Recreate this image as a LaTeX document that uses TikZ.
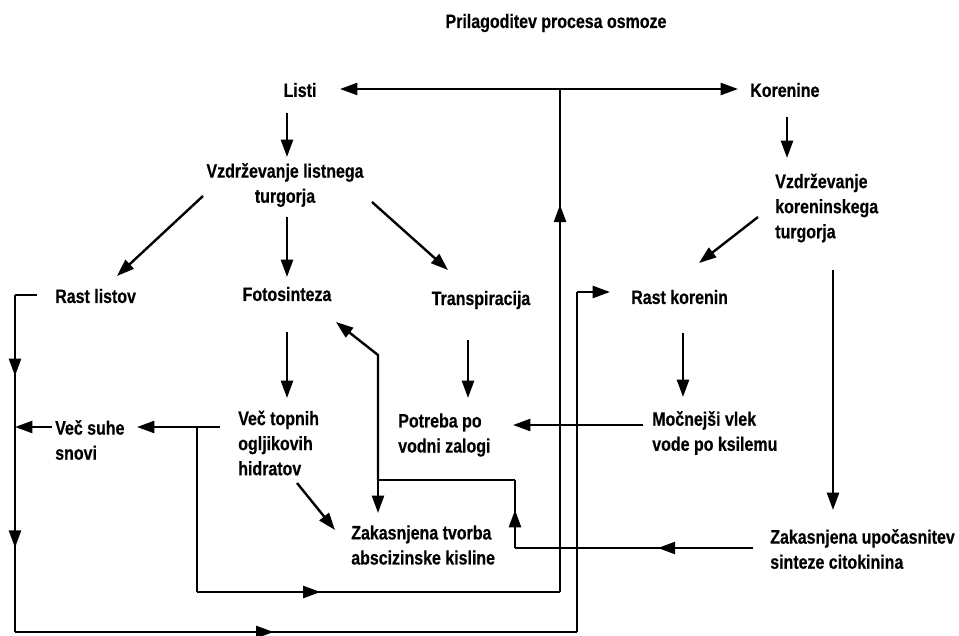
\documentclass[tikz,border=0pt]{standalone}
\usepackage{fontspec}
\setmainfont{Liberation Sans}[FakeStretch=0.82, BoldFeatures={FakeBold=0.4}]
\usepackage{tikz}
\usetikzlibrary{arrows.meta,positioning,calc,decorations.markings}
\tikzset{
  osmtip/.tip={Triangle[length=13pt,width=9pt]},
  osmtext/.style={font=\fontsize{14.6}{18.8}\selectfont\bfseries, inner sep=0pt},
  osmline/.style={line width=1.8pt},
  osmarrow/.style={line width=1.8pt, -osmtip},
  midarrow/.style={postaction={decorate}, decoration={markings, mark=at position #1 with {\arrow{osmtip}}}},
  midarrows/.style 2 args={postaction={decorate}, decoration={markings,
      mark=at position #1 with {\arrow{osmtip}}, mark=at position #2 with {\arrow{osmtip}}}},
}
\begin{document}
\begin{tikzpicture}[x=0.75pt, y=-0.75pt]
  \useasboundingbox (0,0) rectangle (959,635);

  \node[osmtext] (title) at (556,23) {Prilagoditev procesa osmoze};
  \node[osmtext] (listi) at (300,90) {Listi};
  \node[osmtext, anchor=west] (korenine) at (750,90) {Korenine};
  \node[osmtext, align=center] (vzdl) at (285,185) {Vzdrževanje listnega\\turgorja};
  \node[osmtext, anchor=west] (rastl) at (55,296) {Rast listov};
  \node[osmtext] (foto) at (287,294) {Fotosinteza};
  \node[osmtext] (transp) at (481,300) {Transpiracija};
  \node[osmtext, anchor=west, align=left] (vecsuhe) at (55,440) {Več suhe\\snovi};
  \node[osmtext, anchor=west, align=left] (topni) at (238,443) {Več topnih\\ogljikovih\\hidratov};
  \node[osmtext, anchor=west, align=left] (abs) at (351,545) {Zakasnjena tvorba\\abscizinske kisline};
  \node[osmtext, anchor=west, align=left] (potreba) at (398,435) {Potreba po\\vodni zalogi};
  \node[osmtext, anchor=west] (rastk) at (631,297) {Rast korenin};
  \node[osmtext, anchor=west, align=left] (vlek) at (652,433) {Močnejši vlek\\vode po ksilemu};
  \node[osmtext, anchor=west, align=left] (vzdk) at (775,208) {Vzdrževanje\\koreninskega\\turgorja};
  \node[osmtext, anchor=west, align=left] (citok) at (770,549) {Zakasnjena upočasnitev\\sinteze citokinina};

  \draw[osmline, osmtip-osmtip] ($(listi)+(40,-1)$) -- ($(korenine.west)+(-12,-1)$);
  \coordinate (jtop) at ($(listi)+(260,-1)$);

  \draw[osmarrow] ($(listi)+(-13,23)$) -- ($(vzdl)+(2,-28)$);
  \draw[osmarrow] ($(vzdl)+(2,32)$) -- ($(foto)+(0,-17)$);
  \draw[osmarrow] ($(vzdl)+(-82,11)$) -- ($(rastl.west)+(62,-20)$);
  \draw[osmarrow] ($(vzdl)+(87,17)$) -- ($(transp)+(-33,-30)$);
  \draw[osmarrow] ($(foto)+(0,38)$) -- ($(topni.west)+(49,-45)$);
  \draw[osmarrow] ($(transp)+(-13,40)$) -- ($(potreba.west)+(70,-37)$);
  \draw[osmarrow] ($(topni.west)+(59,40)$) -- ($(abs.west)+(-16,-15)$);
  \draw[osmarrow] ($(rastk.west)+(52,36)$) -- ($(vlek.west)+(31,-36)$);
  \draw[osmarrow] ($(vlek.west)+(-9,-8)$) -- ($(potreba.west)+(115,-10)$);
  \draw[osmarrow] ($(korenine.west)+(37,27)$) -- ($(vzdk.west)+(12,-50)$);
  \draw[osmarrow] ($(vzdk.west)+(-17,9)$) -- ($(rastk.west)+(68,-34)$);
  \draw[osmarrow] ($(vzdk.west)+(58,62)$) -- ($(citok.west)+(63,-39)$);

  \draw[osmline] ($(rastl.west)+(-18,-1)$) -- ++(-22,0) coordinate (rl1);
  \draw[osmline, midarrows={0.24}{0.75}] (rl1) -- ++(0,337) coordinate (rl2);
  \draw[osmline, midarrow=0.46] (rl2) -- ++(562,0) coordinate (rl3);
  \draw[osmline] (rl3) -- ++(0,-340) coordinate (rl4);
  \draw[osmarrow] (rl4) -- ($(rastk.west)+(-21,-5)$);

  \draw[osmarrow] ($(vecsuhe.west)+(-3,-13)$) coordinate (vs) -- (vs -| rl1);

  \draw[osmarrow] ($(topni.west)+(-18,-16)$) -- ($(vecsuhe.west)+(82,-13)$);
  \draw[osmline] ($(topni.west)+(-41,-16)$) -- ++(0,165) coordinate (tc);
  \draw[osmline, midarrow=0.34] (tc) -- (tc -| jtop) coordinate (td);
  \draw[osmline, midarrow=0.77] (td) -- (jtop);

  \draw[osmline, midarrow=0.40] ($(citok.west)+(-17,-1)$) -- ++(-238,0) coordinate (ck1);
  \draw[osmline, midarrow=0.56] (ck1) -- ++(0,-68) coordinate (ck2);
  \draw[osmline] (ck2) -- ++(-137,0) coordinate (jn);
  \draw[osmarrow] (jn) -- ($(abs.west)+(27,-32)$);
  \draw[osmarrow] (jn) -- ++(0,-125) -- ($(foto)+(49,28)$);
\end{tikzpicture}
\end{document}
